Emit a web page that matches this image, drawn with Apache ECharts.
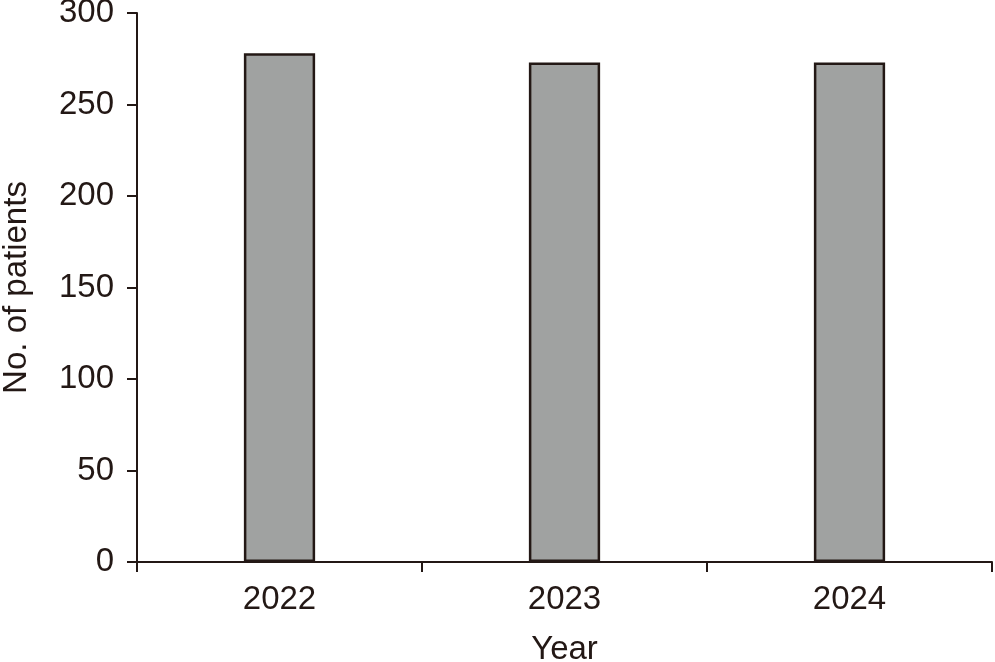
<!DOCTYPE html>
<html>
<head>
<meta charset="utf-8">
<style>
  html, body { margin: 0; padding: 0; background: #fff; }
  #main { width: 995px; height: 662px; }
</style>
<script src="https://cdn.jsdelivr.net/npm/echarts@6/dist/echarts.min.js"></script>
</head>
<body>
<div id="main"></div>
<script>
var years = ['2022', '2023', '2024'];
var patients = [278, 273, 273];
var yTicks = [0, 50, 100, 150, 200, 250, 300];

var chart = echarts.init(document.getElementById('main'));
var font = '"Liberation Sans", Arial, sans-serif';
var ink = '#231815';

var option = {
    animation: false,
    backgroundColor: '#fff',
    grid: { left: 137, right: 3, top: 13, bottom: 100, containLabel: false, outerBoundsMode: 'none' },
    xAxis: {
        type: 'category',
        data: years,
        name: 'Year',
        nameLocation: 'middle',
        nameGap: 71,
        nameTextStyle: { color: ink, fontSize: 33, fontFamily: font },
        axisLine: { lineStyle: { color: ink, width: 2 } },
        axisTick: { show: true, length: 10, lineStyle: { color: ink, width: 2 } },
        axisLabel: { color: ink, fontSize: 33, fontFamily: font, margin: 21 }
    },
    yAxis: {
        type: 'value',
        min: yTicks[0],
        max: yTicks[yTicks.length - 1],
        interval: 50,
        name: 'No. of patients',
        nameLocation: 'middle',
        nameGap: 104,
        nameTextStyle: { color: ink, fontSize: 33, fontFamily: font },
        splitLine: { show: false },
        axisLine: { show: true, lineStyle: { color: ink, width: 2 } },
        axisTick: { show: true, length: 10, lineStyle: { color: ink, width: 2 } },
        axisLabel: { color: ink, fontSize: 33, fontFamily: font, margin: 23 }
    },
    series: [{
        type: 'bar',
        data: patients,
        barWidth: '25%',
        itemStyle: { color: '#a0a2a1', borderColor: ink, borderWidth: 2.5 }
    }]
};
chart.setOption(option);
</script>
</body>
</html>
